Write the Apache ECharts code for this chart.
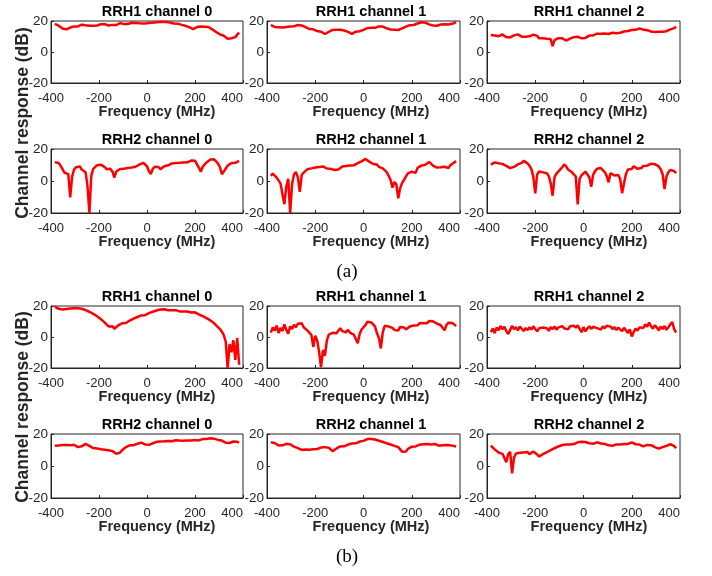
<!DOCTYPE html>
<html>
<head>
<meta charset="utf-8">
<title>Channel response</title>
<script src="https://cdn.jsdelivr.net/npm/echarts@6/dist/echarts.min.js"></script>
<style>
html,body{margin:0;padding:0;background:#fff;}
#mychart{width:712px;height:576px;}
</style>
</head>
<body>
<div id="mychart"></div>
<script>
// frequency grid (MHz)
var freq = [-384,-376,-368,-360,-352,-344,-336,-328,-320,-312,-304,-296,
  -288,-280,-272,-264,-256,-248,-240,-232,-224,-216,-208,-200,
  -192,-184,-176,-168,-160,-152,-144,-136,-128,-120,-112,-104,
  -96,-88,-80,-72,-64,-56,-48,-40,-32,-24,-16,-8,
  0,8,16,24,32,40,48,56,64,72,80,88,
  96,104,112,120,128,136,144,152,160,168,176,184,
  192,200,208,216,224,232,240,248,256,264,272,280,
  288,296,304,312,320,328,336,344,352,360,368,376,
  384];

// (a) RRH1
var aRRH1ch0 = [18.2,17.6,17.0,16.4,15.2,15.0,14.6,15.3,15.8,15.6,16.4,16.8,
  16.5,17.3,17.6,17.0,17.2,16.6,16.9,16.4,17.0,17.5,17.1,17.6,
  17.9,17.4,18.0,17.3,17.1,16.8,17.5,17.8,17.4,18.2,18.7,18.3,
  18.0,18.5,18.1,18.6,18.9,18.4,18.7,18.2,18.5,18.0,18.4,18.2,
  18.6,18.3,18.9,18.5,19.0,18.7,19.3,19.0,19.5,19.8,19.4,19.6,
  19.0,18.8,18.4,18.0,18.3,17.8,17.5,17.1,16.9,16.4,16.0,15.3,
  14.8,15.6,16.1,15.9,16.4,16.7,16.3,16.6,16.1,15.5,14.6,13.8,
  12.9,12.0,11.4,10.8,10.5,9.9,8.6,7.4,8.9,7.8,9.6,11.2,
  12.5];
var aRRH1ch1 = [17.4,16.8,16.2,15.6,16.0,15.4,15.8,15.5,16.1,15.8,16.4,16.0,
  16.6,16.9,17.4,17.7,17.1,16.6,16.0,15.4,14.8,14.3,14.6,13.9,
  13.5,13.8,13.1,12.8,11.6,12.4,13.0,13.6,14.2,14.6,14.3,14.8,
  14.4,14.7,13.9,13.5,13.0,12.2,11.7,12.6,13.1,12.7,13.4,13.9,
  14.3,14.8,15.4,15.1,15.7,16.0,15.6,16.2,16.5,16.1,16.4,15.8,
  15.3,15.0,14.5,14.1,14.4,13.9,14.2,14.8,15.2,15.9,16.4,16.9,
  17.3,17.7,17.4,18.1,18.4,18.8,19.2,18.7,18.9,18.3,17.8,17.5,
  17.1,17.4,16.9,17.3,17.7,17.4,17.9,18.2,17.8,18.5,18.2,18.9,
  19.3];
var aRRH1ch2 = [11.0,11.6,10.6,10.9,10.2,10.8,11.3,10.5,9.6,8.6,9.4,10.1,
  10.7,10.3,11.4,10.8,9.9,9.3,9.8,9.5,10.1,10.5,11.2,11.6,
  10.4,8.8,8.3,8.9,7.9,8.5,7.8,8.4,3.8,7.6,8.3,8.9,
  8.2,8.8,8.0,7.4,7.9,8.6,9.1,9.6,9.2,9.9,9.4,8.8,
  9.5,9.1,10.0,10.6,11.0,10.7,11.5,11.8,12.2,11.7,12.3,11.9,
  12.2,11.6,12.0,12.4,11.8,12.1,11.7,12.4,12.9,13.2,12.8,13.6,
  13.9,14.2,14.6,14.3,14.9,15.2,14.8,14.4,14.7,14.1,13.6,13.2,
  13.5,12.9,13.3,13.0,13.4,13.1,13.7,13.4,14.0,14.6,14.3,15.4,
  16.3];

// (a) RRH2
var aRRH2ch0 = [11.8,12.3,11.2,9.6,7.4,5.2,6.1,4.3,-10.2,2.8,7.1,8.6,
  7.9,9.1,7.2,6.3,5.5,-3.0,-20.0,3.4,7.6,8.8,9.9,9.3,
  10.2,9.6,8.7,7.4,6.9,7.6,5.8,2.2,5.9,6.8,7.5,6.9,
  7.7,7.2,8.1,7.6,8.4,8.0,8.9,9.6,10.2,10.8,11.4,11.9,
  9.2,6.1,4.4,7.6,8.9,9.4,8.8,7.3,8.1,9.2,10.1,9.8,
  10.5,11.0,10.6,11.3,10.9,11.4,10.8,11.6,12.2,11.7,12.4,12.8,
  12.3,12.7,11.9,8.4,5.8,8.9,10.3,11.6,12.5,13.4,14.2,13.6,
  12.4,10.9,8.6,4.2,5.9,7.8,9.6,10.8,11.3,11.9,11.4,12.2,
  12.6];
var aRRH2ch1 = [3.2,4.6,3.8,2.1,1.2,-1.5,-8.2,-14.5,-3.4,1.4,-20.0,-1.8,
  4.2,5.6,2.3,-6.8,3.9,5.2,6.1,7.4,6.8,7.9,7.3,8.4,
  7.9,8.8,8.2,9.1,8.6,7.8,8.5,7.6,8.2,6.9,7.8,7.2,
  8.4,9.0,8.3,9.4,8.9,9.7,10.3,9.8,10.6,11.2,11.7,12.3,
  12.9,13.8,12.8,12.1,11.4,10.6,9.9,10.3,8.8,9.2,7.9,7.1,
  5.6,3.4,0.8,-4.2,-0.6,-2.1,-10.8,-4.5,-1.2,0.6,2.9,4.8,
  3.9,5.8,6.3,5.1,8.2,7.5,9.6,8.8,10.2,11.4,11.9,10.8,
  9.6,9.1,8.4,9.3,8.6,9.7,8.9,9.4,8.1,9.8,10.9,11.6,
  12.4];
var aRRH2ch2 = [10.2,9.4,11.6,12.4,11.1,11.9,10.7,10.2,9.4,8.6,8.1,7.5,
  8.8,9.3,10.4,10.1,11.3,12.6,12.2,11.0,9.6,7.4,2.6,-7.8,
  4.1,5.9,6.8,5.4,6.2,4.8,3.1,-1.4,-9.2,2.4,4.6,5.8,
  7.3,8.6,10.4,9.1,7.2,6.1,5.4,4.2,2.8,-14.6,1.4,3.6,
  4.8,5.9,4.7,2.3,-3.6,3.8,6.2,7.6,6.8,8.1,7.4,5.6,
  3.2,-0.8,4.9,6.1,3.4,4.6,3.8,1.2,-7.6,-1.4,4.3,7.2,
  8.1,7.5,9.2,8.4,7.6,8.8,8.1,9.4,8.7,9.6,10.2,10.8,
  11.3,10.5,9.7,9.1,7.4,4.2,-5.1,2.8,5.6,6.9,7.8,6.3,
  4.8];

// (b) RRH1
var bRRH1ch0 = [19.6,18.9,18.2,18.6,17.8,18.3,18.1,18.7,18.4,19.0,18.6,19.1,
  18.5,18.8,18.2,17.9,17.4,16.8,16.3,15.6,14.9,14.2,13.4,12.6,
  11.5,10.4,9.3,8.1,6.8,5.6,6.9,5.3,6.4,7.5,8.0,8.8,
  9.4,9.0,10.1,10.6,11.2,11.8,12.4,12.9,13.4,13.9,14.5,14.1,
  15.0,15.4,15.9,16.3,16.8,17.1,17.4,17.8,17.5,17.9,17.6,17.3,
  17.7,17.2,16.9,17.3,16.8,16.5,16.9,16.4,16.1,16.5,16.0,15.8,
  15.4,15.9,15.1,14.6,14.1,13.5,13.0,12.2,11.6,10.7,9.6,8.8,
  7.5,6.4,5.1,3.4,1.2,-3.0,-20.0,-4.6,-9.8,-2.1,-14.8,-0.5,
  -17.9];
var bRRH1ch1 = [2.8,6.1,4.2,7.3,2.6,5.8,3.9,8.2,4.6,2.1,6.9,5.2,
  7.8,6.4,8.6,7.9,8.8,6.3,5.4,4.1,3.2,1.4,-6.4,0.8,
  -2.3,-9.6,-19.5,-8.4,-12.1,-2.4,1.6,0.9,2.7,3.5,2.4,4.2,
  5.6,3.8,4.9,3.1,4.6,2.8,3.6,1.5,0.4,-4.1,1.9,4.8,
  6.3,7.6,9.8,8.9,9.4,8.1,6.7,2.4,-0.6,-7.4,3.1,7.2,
  7.9,6.8,7.4,5.9,4.6,5.3,4.1,6.5,5.7,6.2,4.9,6.1,
  6.8,5.6,7.4,8.2,7.5,8.8,8.2,9.1,9.7,8.9,10.3,9.6,
  10.1,9.3,8.7,9.0,7.6,5.9,4.3,7.8,9.2,10.4,9.1,8.5,
  7.0];
var bRRH1ch2 = [3.1,5.4,2.6,6.2,4.3,7.1,5.0,6.6,3.8,1.9,4.6,7.2,
  5.1,6.4,4.2,6.8,5.3,3.9,5.8,4.4,6.3,4.8,6.9,5.2,
  3.7,5.6,4.5,6.1,4.9,5.7,4.0,6.4,5.1,6.8,4.7,6.2,
  5.4,7.0,5.6,6.5,4.9,6.9,5.8,7.3,6.0,7.6,5.2,3.1,
  6.4,3.6,5.5,6.9,5.3,6.6,7.4,5.7,6.3,4.8,6.9,5.6,
  7.2,6.0,6.7,5.1,6.4,4.6,6.1,5.3,3.8,5.9,4.4,2.6,
  4.9,0.3,3.2,5.5,4.1,6.2,7.4,5.8,8.1,6.7,9.3,7.0,
  5.4,7.6,6.1,4.3,6.8,5.2,7.1,4.6,6.3,8.2,9.6,5.0,
  2.9];

// (b) RRH2
var bRRH2ch0 = [12.6,13.4,12.8,13.6,13.2,13.9,13.1,12.4,12.9,12.2,13.3,12.7,
  11.8,11.4,12.3,13.2,13.8,13.1,12.6,12.0,11.2,10.6,10.9,10.1,
  10.5,9.7,10.2,9.4,9.8,8.9,9.3,8.2,7.6,7.2,8.4,9.8,
  10.9,11.8,12.4,12.9,13.3,13.0,13.6,13.9,14.3,14.6,14.0,13.5,
  13.8,13.2,13.9,14.2,14.8,15.1,14.7,15.3,15.0,15.4,15.1,15.6,
  15.9,15.5,15.8,16.1,15.7,15.9,16.3,15.8,16.2,15.9,15.6,16.0,
  15.7,16.2,16.4,16.0,16.5,16.8,16.4,16.9,17.2,17.4,16.9,17.1,
  16.7,16.3,16.5,15.9,15.4,14.6,13.9,14.4,15.0,15.3,14.8,15.1,
  14.6];
var bRRH2ch1 = [14.8,13.9,14.4,13.2,12.8,13.5,12.9,13.4,13.8,14.2,13.6,12.8,
  12.1,11.7,11.2,10.6,10.1,9.7,10.3,9.5,10.2,9.6,10.4,9.8,
  10.6,10.9,11.5,11.2,11.8,12.1,11.4,10.2,9.3,10.1,11.0,11.6,
  12.2,12.7,12.3,13.0,13.4,13.8,14.1,14.5,14.2,14.8,15.3,15.1,
  15.7,16.2,16.8,17.2,16.9,17.0,16.6,16.2,15.8,15.4,15.0,14.6,
  14.2,13.8,13.4,13.0,12.6,12.3,11.8,10.4,8.9,8.2,9.1,10.6,
  11.5,12.1,12.6,12.2,12.9,13.3,12.8,13.6,13.2,13.7,13.1,13.5,
  12.9,13.8,13.2,12.7,13.4,13.0,12.6,13.1,12.4,12.9,13.3,12.5,
  12.1];
var bRRH2ch2 = [12.8,11.6,10.4,9.2,8.4,9.1,7.6,8.8,2.4,7.5,8.9,-4.6,
  5.2,7.8,9.0,8.3,7.6,8.5,7.9,8.7,7.4,8.2,9.1,8.0,
  7.2,5.9,6.8,7.4,8.1,8.6,9.4,9.9,10.6,11.1,11.7,12.2,
  12.6,13.1,12.8,13.4,13.9,13.5,14.0,13.7,14.3,14.8,14.5,15.1,
  15.4,15.0,14.6,14.2,14.7,13.9,14.3,14.8,14.4,14.1,14.6,13.8,
  13.4,12.9,13.3,12.6,12.9,13.5,13.9,13.4,14.1,13.7,14.2,13.8,
  14.3,14.7,14.1,13.6,13.0,13.4,12.7,12.3,12.9,13.2,12.6,13.0,
  12.4,11.8,11.2,10.9,11.5,11.8,12.1,12.6,12.9,13.6,14.2,12.4,
  11.1];

var xTicks = [-400, 200];   // min, step
var yTicks = [-20, 20];     // min, step
var titles = ['RRH1 channel 0','RRH1 channel 1','RRH1 channel 2',
              'RRH2 channel 0','RRH2 channel 1','RRH2 channel 2'];
var panelData = [aRRH1ch0, aRRH1ch1, aRRH1ch2, aRRH2ch0, aRRH2ch1, aRRH2ch2,
                 bRRH1ch0, bRRH1ch1, bRRH1ch2, bRRH2ch0, bRRH2ch1, bRRH2ch2];

// layout (px)
var colLeft = [51, 267, 487], colWidth = [192, 193, 193], colMid = [157, 371, 589];
var rowTop = [21, 149, 306, 434], rowHeight = [62, 64, 62, 64];
var sans = "'Liberation Sans', Arial, Helvetica, sans-serif";
var axisColor = '#262626';

var grids = [], xAxes = [], yAxes = [], series = [], texts = [];

panelData.forEach(function (vals, i) {
  var r = Math.floor(i / 3), c = i % 3;
  grids.push({
    left: colLeft[c], top: rowTop[r], width: colWidth[c], height: rowHeight[r],
    show: true, borderColor: axisColor, borderWidth: 1, backgroundColor: '#fff'
  });
  xAxes.push({
    gridIndex: i, type: 'value', min: xTicks[0], max: -xTicks[0], interval: xTicks[1],
    axisLine: {show: true, onZero: false, lineStyle: {color: axisColor}},
    axisTick: {inside: true, length: 3, lineStyle: {color: axisColor}},
    splitLine: {show: false},
    axisLabel: {fontSize: 13, color: axisColor, margin: 9, fontFamily: sans, alignMaxLabel: 'right'}
  });
  yAxes.push({
    gridIndex: i, type: 'value', min: yTicks[0], max: -yTicks[0], interval: yTicks[1],
    axisLine: {show: true, onZero: false, lineStyle: {color: axisColor}},
    axisTick: {inside: true, length: 3, lineStyle: {color: axisColor}},
    splitLine: {show: false},
    axisLabel: {fontSize: 13.5, color: axisColor, margin: 3, fontFamily: sans}
  });
  series.push({
    type: 'line', xAxisIndex: i, yAxisIndex: i,
    data: freq.map(function (f, k) { return [f, vals[k]]; }),
    showSymbol: false, symbol: 'none',
    lineStyle: {color: '#ff0000', width: 2.5},
    clip: true
  });
  // panel title
  texts.push({
    type: 'text', x: colMid[c], y: rowTop[r] - 9,
    style: {text: titles[i % 6], fontSize: 14.5, fontWeight: 'bold', fontFamily: sans,
            fill: '#000', align: 'center', verticalAlign: 'middle'}
  });
  // x label
  texts.push({
    type: 'text', x: colMid[c], y: rowTop[r] + rowHeight[r] + 29,
    style: {text: 'Frequency (MHz)', fontSize: 14.5, fontWeight: 'bold', fontFamily: sans,
            fill: axisColor, align: 'center', verticalAlign: 'middle'}
  });
});

// shared y labels and sub-figure tags
[123, 407].forEach(function (cy) {
  texts.push({
    type: 'text', x: 23, y: cy, rotation: Math.PI / 2,
    style: {text: 'Channel response (dB)', fontSize: 17.5, fontWeight: 'bold', fontFamily: sans,
            fill: axisColor, align: 'center', verticalAlign: 'middle'}
  });
});
[['(a)', 272], ['(b)', 557]].forEach(function (t) {
  texts.push({
    type: 'text', x: 347, y: t[1],
    style: {text: t[0], fontSize: 19, fontFamily: "'Liberation Serif', 'Times New Roman', serif",
            fill: '#000', align: 'center', verticalAlign: 'middle'}
  });
});

var option = {
  animation: false,
  backgroundColor: '#fff',
  grid: grids,
  xAxis: xAxes,
  yAxis: yAxes,
  series: series,
  graphic: texts
};

var myChart = echarts.init(document.getElementById('mychart'));
myChart.setOption(option);
window.addEventListener('resize', function () { myChart.resize(); });
</script>
</body>
</html>
